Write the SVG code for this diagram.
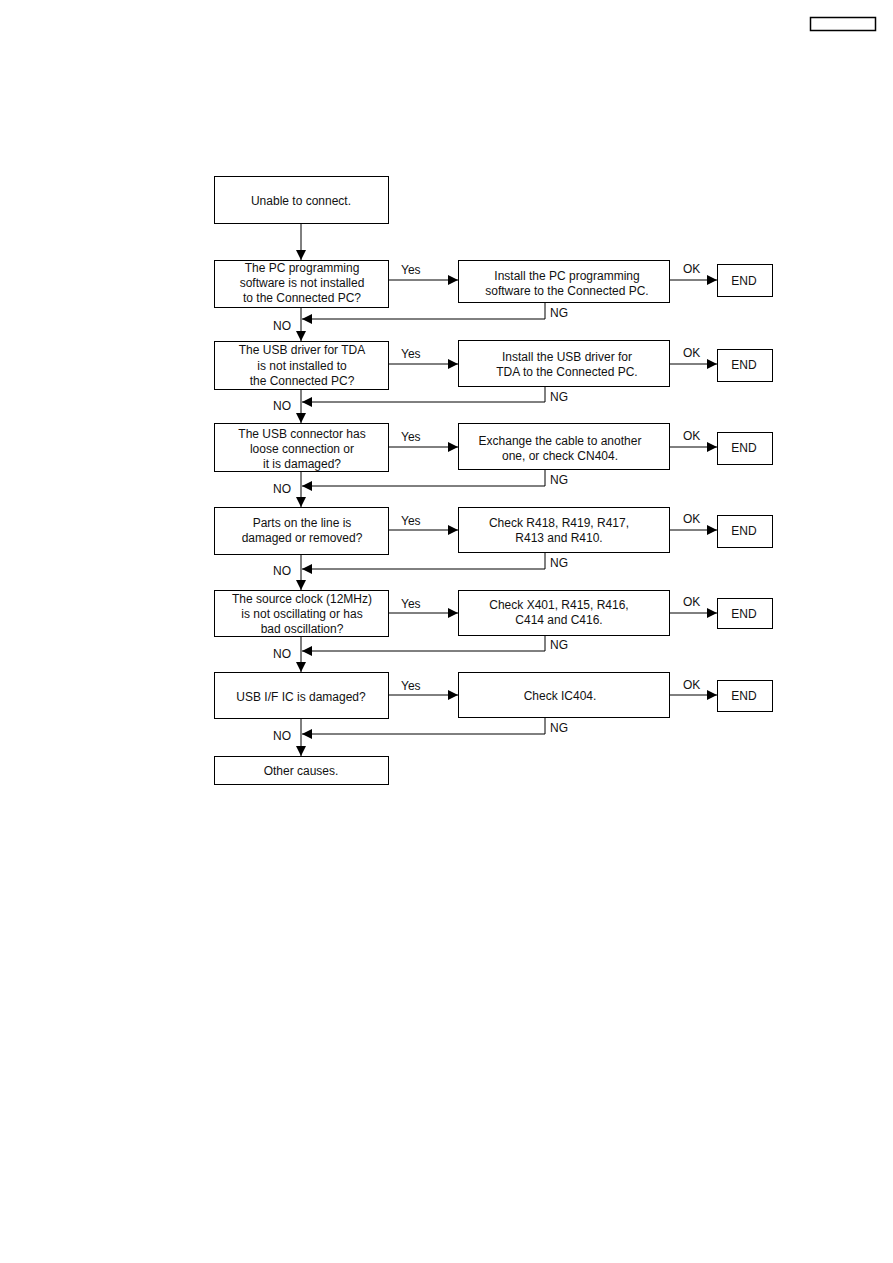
<svg xmlns="http://www.w3.org/2000/svg" width="893" height="1263" viewBox="0 0 893 1263">
<defs>
<marker id="ah" markerUnits="userSpaceOnUse" markerWidth="11" markerHeight="10" refX="10" refY="5" orient="auto">
<path d="M0,0 L10,5 L0,10 Z" fill="#000"/>
</marker>
<style>
.b{fill:#fff;stroke:#000;stroke-width:1}
text{font-family:"Liberation Sans",Arial,sans-serif;font-size:12px;fill:#111}
.c{text-anchor:middle}
.ln{fill:none;stroke:#000;stroke-width:1}
</style>
</defs>
<rect width="893" height="1263" fill="#fff"/>
<g id="hdr"><rect class="b" x="810.5" y="17.5" width="65" height="13" style="stroke-width:1.5"/></g>

<g id="connectors">
<path class="ln" d="M301,223 V260" marker-end="url(#ah)"/>
<path class="ln" d="M301,307 V341" marker-end="url(#ah)"/>
<path class="ln" d="M301,389 V423" marker-end="url(#ah)"/>
<path class="ln" d="M301,471 V507" marker-end="url(#ah)"/>
<path class="ln" d="M301,554 V590" marker-end="url(#ah)"/>
<path class="ln" d="M301,636 V672" marker-end="url(#ah)"/>
<path class="ln" d="M301,718 V756" marker-end="url(#ah)"/>

<path class="ln" d="M388,280 H458" marker-end="url(#ah)"/>
<path class="ln" d="M388,364 H458" marker-end="url(#ah)"/>
<path class="ln" d="M388,447 H458" marker-end="url(#ah)"/>
<path class="ln" d="M388,530 H458" marker-end="url(#ah)"/>
<path class="ln" d="M388,613 H458" marker-end="url(#ah)"/>
<path class="ln" d="M388,695 H458" marker-end="url(#ah)"/>

<path class="ln" d="M669,280 H717" marker-end="url(#ah)"/>
<path class="ln" d="M669,364 H717" marker-end="url(#ah)"/>
<path class="ln" d="M669,447 H717" marker-end="url(#ah)"/>
<path class="ln" d="M669,530 H717" marker-end="url(#ah)"/>
<path class="ln" d="M669,613 H717" marker-end="url(#ah)"/>
<path class="ln" d="M669,695 H717" marker-end="url(#ah)"/>

<path class="ln" d="M545,302 V319 H302" marker-end="url(#ah)"/>
<path class="ln" d="M545,386 V402 H302" marker-end="url(#ah)"/>
<path class="ln" d="M545,469 V486 H302" marker-end="url(#ah)"/>
<path class="ln" d="M545,552 V569 H302" marker-end="url(#ah)"/>
<path class="ln" d="M545,635 V651 H302" marker-end="url(#ah)"/>
<path class="ln" d="M545,717 V734 H302" marker-end="url(#ah)"/>

<text x="401" y="274">Yes</text>
<text x="401" y="358">Yes</text>
<text x="401" y="441">Yes</text>
<text x="401" y="525">Yes</text>
<text x="401" y="608">Yes</text>
<text x="401" y="690">Yes</text>

<text x="683" y="273">OK</text>
<text x="683" y="357">OK</text>
<text x="683" y="440">OK</text>
<text x="683" y="523">OK</text>
<text x="683" y="606">OK</text>
<text x="683" y="689">OK</text>

<text x="550" y="317">NG</text>
<text x="550" y="401">NG</text>
<text x="550" y="484">NG</text>
<text x="550" y="567">NG</text>
<text x="550" y="649">NG</text>
<text x="550" y="732">NG</text>

<text class="c" x="282" y="330">NO</text>
<text class="c" x="282" y="410">NO</text>
<text class="c" x="282" y="493">NO</text>
<text class="c" x="282" y="575">NO</text>
<text class="c" x="282" y="658">NO</text>
<text class="c" x="282" y="740">NO</text>
</g>

<g id="start"><rect class="b" x="214.5" y="176.5" width="174" height="47"/><text class="c" x="301" y="205">Unable to connect.</text></g>

<g id="q1"><rect class="b" x="214.5" y="260.5" width="174" height="47"/>
<text class="c" x="302" y="272">The PC programming</text><text class="c" x="302" y="287">software is not installed</text><text class="c" x="302" y="302">to the Connected PC?</text></g>
<g id="a1"><rect class="b" x="458.5" y="260.5" width="211" height="42"/>
<text class="c" x="567" y="280">Install the PC programming</text><text class="c" x="567" y="295">software to the Connected PC.</text></g>
<g id="e1"><rect class="b" x="717.5" y="264.5" width="55" height="32"/><text class="c" x="744" y="285">END</text></g>

<g id="q2"><rect class="b" x="214.5" y="341.5" width="174" height="48"/>
<text class="c" x="302" y="354">The USB driver for TDA</text><text class="c" x="302" y="370">is not installed to</text><text class="c" x="302" y="385">the Connected PC?</text></g>
<g id="a2"><rect class="b" x="458.5" y="340.5" width="211" height="46"/>
<text class="c" x="567" y="361">Install the USB driver for</text><text class="c" x="567" y="376">TDA to the Connected PC.</text></g>
<g id="e2"><rect class="b" x="717.5" y="349.5" width="55" height="32"/><text class="c" x="744" y="369">END</text></g>

<g id="q3"><rect class="b" x="214.5" y="423.5" width="174" height="48"/>
<text class="c" x="302" y="438">The USB connector has</text><text class="c" x="302" y="453">loose connection or</text><text class="c" x="302" y="468">it is damaged?</text></g>
<g id="a3"><rect class="b" x="458.5" y="423.5" width="211" height="46"/>
<text class="c" x="560" y="445">Exchange the cable to another</text><text class="c" x="560" y="460">one, or check CN404.</text></g>
<g id="e3"><rect class="b" x="717.5" y="432.5" width="55" height="32"/><text class="c" x="744" y="452">END</text></g>

<g id="q4"><rect class="b" x="214.5" y="507.5" width="174" height="47"/>
<text class="c" x="302" y="527">Parts on the line is</text><text class="c" x="302" y="542">damaged or removed?</text></g>
<g id="a4"><rect class="b" x="458.5" y="507.5" width="211" height="45"/>
<text class="c" x="559" y="527">Check R418, R419, R417,</text><text class="c" x="559" y="542">R413 and R410.</text></g>
<g id="e4"><rect class="b" x="717.5" y="515.5" width="55" height="32"/><text class="c" x="744" y="535">END</text></g>

<g id="q5"><rect class="b" x="214.5" y="590.5" width="174" height="46"/>
<text class="c" x="302" y="603">The source clock (12MHz)</text><text class="c" x="302" y="618">is not oscillating or has</text><text class="c" x="302" y="633">bad oscillation?</text></g>
<g id="a5"><rect class="b" x="458.5" y="590.5" width="211" height="45"/>
<text class="c" x="559" y="609">Check X401, R415, R416,</text><text class="c" x="559" y="624">C414 and C416.</text></g>
<g id="e5"><rect class="b" x="717.5" y="598.5" width="55" height="30"/><text class="c" x="744" y="618">END</text></g>

<g id="q6"><rect class="b" x="214.5" y="672.5" width="174" height="46"/>
<text class="c" x="301" y="701">USB I/F IC is damaged?</text></g>
<g id="a6"><rect class="b" x="458.5" y="672.5" width="211" height="45"/>
<text class="c" x="560" y="700">Check IC404.</text></g>
<g id="e6"><rect class="b" x="717.5" y="680.5" width="55" height="31"/><text class="c" x="744" y="700">END</text></g>

<g id="other"><rect class="b" x="214.5" y="756.5" width="174" height="28"/><text class="c" x="301" y="775">Other causes.</text></g>
</svg>
